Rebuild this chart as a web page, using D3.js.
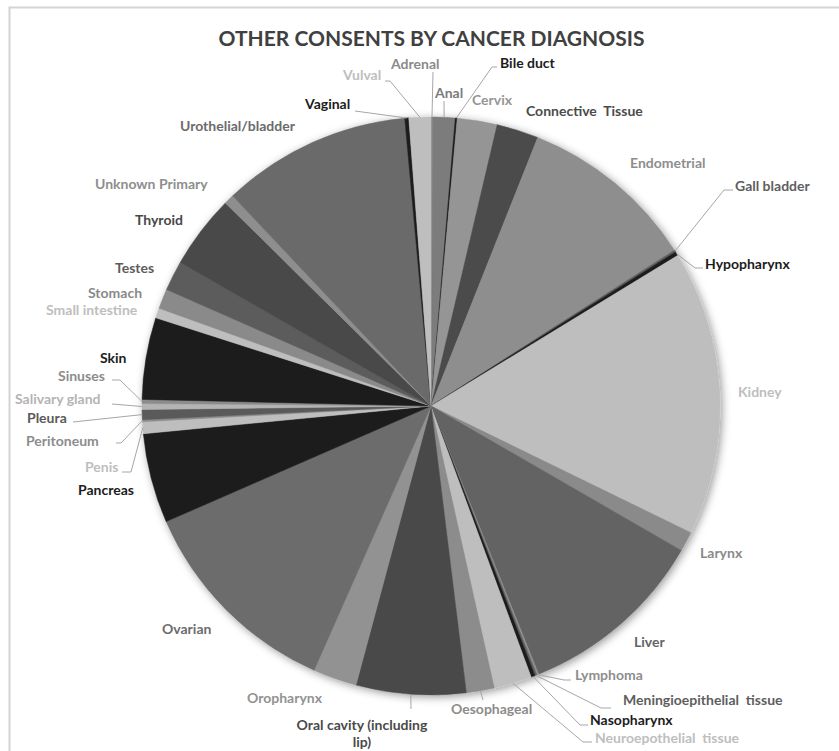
<!DOCTYPE html>
<html>
<head>
<meta charset="utf-8">
<script src="https://cdn.jsdelivr.net/npm/d3@7"></script>
<style>
  body { margin: 0; background: #fff; }
  svg { display: block; font-family: Lato, "Open Sans", sans-serif; }
</style>
</head>
<body>
<svg id="chart" width="839" height="751"></svg>
<script>
// categories in sheet order (Excel draws clockwise from 12 o'clock)
const diagnoses = [
  "Adrenal", "Anal", "Bile duct", "Cervix", "Connective Tissue", "Endometrial",
  "Gall bladder", "Hypopharynx", "Kidney", "Larynx", "Liver", "Lymphoma",
  "Meningioepithelial tissue", "Nasopharynx", "Neuroepothelial tissue",
  "Oesophageal", "Oral cavity (including lip)", "Oropharynx", "Ovarian",
  "Pancreas", "Penis", "Peritoneum", "Pleura", "Salivary gland", "Sinuses",
  "Skin", "Small intestine", "Stomach", "Testes", "Thyroid", "Unknown Primary",
  "Urothelial/bladder", "Vaginal", "Vulval"
];

// consents per diagnosis
const consents = [
  1, 11, 1, 20, 21, 89,
  1, 2, 143, 10, 95, 1,
  1, 2, 19,
  14, 55, 22, 106,
  45, 6, 1, 5, 3, 2,
  41, 5, 10, 15, 37, 5,
  95, 2, 11
];

// grey shade of each slice (labels use the same shade)
const shades = [
  "#8a8a8a", "#7b7b7b", "#1c1c1c", "#959595", "#4b4b4b", "#8e8e8e",
  "#5e5e5e", "#1c1c1c", "#bebebe", "#8a8a8a", "#646464", "#8e8e8e",
  "#5e5e5e", "#1c1c1c", "#bebebe",
  "#8c8c8c", "#4a4a4a", "#929292", "#6c6c6c",
  "#1c1c1c", "#bebebe", "#8c8c8c", "#5a5a5a", "#b4b4b4", "#8c8c8c",
  "#1c1c1c", "#bebebe", "#8a8a8a", "#5c5c5c", "#484848", "#8e8e8e",
  "#6b6b6b", "#1c1c1c", "#bebebe"
];

// label placement (dragged by hand in the original): x, y, anchor, leader start/elbow
const labelLayout = {
  "Adrenal": { x: 391, y: 64, lead: [[433, 72]] },
  "Anal": { x: 435, y: 93, lead: [[444, 101]] },
  "Bile duct": { x: 500, y: 63, lead: [[497, 67], [492, 67]] },
  "Cervix": { x: 472, y: 100 },
  "Connective Tissue": { x: 526, y: 111, text: "Connective  Tissue" },
  "Endometrial": { x: 630, y: 163 },
  "Gall bladder": { x: 735, y: 186, lead: [[733, 190], [724, 190]] },
  "Hypopharynx": { x: 705, y: 264, lead: [[703, 268], [695, 268]] },
  "Kidney": { x: 738, y: 392 },
  "Larynx": { x: 700, y: 553 },
  "Liver": { x: 634, y: 642 },
  "Lymphoma": { x: 575, y: 675, lead: [[571, 680], [564, 680]] },
  "Meningioepithelial tissue": { x: 623, y: 700, text: "Meningioepithelial  tissue", lead: [[611, 708], [601, 708]] },
  "Nasopharynx": { x: 590, y: 720, lead: [[588, 725], [580, 725]] },
  "Neuroepothelial tissue": { x: 595, y: 738, text: "Neuroepothelial  tissue", lead: [[592, 742], [583, 742]] },
  "Oesophageal": { x: 451, y: 709, lead: [[483, 700]] },
  "Oral cavity (including lip)": { x: 362, y: 725, anchor: "middle", lines: ["Oral cavity (including", "lip)"], lead: [[411, 709]] },
  "Oropharynx": { x: 247, y: 698 },
  "Ovarian": { x: 162, y: 629 },
  "Pancreas": { x: 78, y: 490 },
  "Penis": { x: 85, y: 467, lead: [[122, 472], [131, 472]] },
  "Peritoneum": { x: 26, y: 441, lead: [[116, 443], [121, 443]] },
  "Pleura": { x: 27, y: 418, lead: [[73, 422]] },
  "Salivary gland": { x: 15, y: 399, lead: [[112, 404]] },
  "Sinuses": { x: 58, y: 376, lead: [[112, 380], [120, 380]] },
  "Skin": { x: 100, y: 358 },
  "Small intestine": { x: 46, y: 310 },
  "Stomach": { x: 88, y: 293 },
  "Testes": { x: 115, y: 268 },
  "Thyroid": { x: 135, y: 220 },
  "Unknown Primary": { x: 95, y: 184 },
  "Urothelial/bladder": { x: 180, y: 126 },
  "Vaginal": { x: 305, y: 104, lead: [[355, 111]] },
  "Vulval": { x: 343, y: 75, lead: [[385, 81], [390, 81]] }
};

const svg = d3.select("#chart");
const width = 839;
const cx = 431, cy = 406, radius = 289;

// chart area frame
svg.append("rect")
  .attr("x", 9.5).attr("y", 7.5)
  .attr("width", 900).attr("height", 900)
  .attr("fill", "none")
  .attr("stroke", "#d4d4d4")
  .attr("stroke-width", 2);

// soft outer shadow like Excel's
const defs = svg.append("defs");
const filter = defs.append("filter").attr("id", "pieShadow")
  .attr("x", "-10%").attr("y", "-10%").attr("width", "120%").attr("height", "120%");
filter.append("feDropShadow")
  .attr("dx", 2).attr("dy", 2)
  .attr("stdDeviation", 4)
  .attr("flood-color", "#000")
  .attr("flood-opacity", 0.4);

svg.append("text")
  .attr("x", width / 2 + 12)
  .attr("y", 46)
  .attr("text-anchor", "middle")
  .attr("font-size", 21)
  .attr("font-weight", "bold")
  .attr("fill", "#404040")
  .text("OTHER CONSENTS BY CANCER DIAGNOSIS");

const data = diagnoses.map((name, i) => ({ name, value: consents[i], color: shades[i] }));

const pie = d3.pie().sort(null).value((d) => d.value);
const arcs = pie(data);

const arc = d3.arc().innerRadius(0).outerRadius(radius);
const edge = d3.arc().innerRadius(radius).outerRadius(radius);

const g = svg.append("g").attr("transform", `translate(${cx},${cy})`);

g.append("g")
  .attr("filter", "url(#pieShadow)")
  .selectAll("path")
  .data(arcs)
  .enter()
  .append("path")
  .attr("d", arc)
  .attr("fill", (d) => d.data.color)
  .attr("stroke", (d) => d.data.color)
  .attr("stroke-width", 0.5);

// leader lines
const leaders = svg.append("g");
arcs.forEach((d) => {
  const lay = labelLayout[d.data.name];
  if (!lay || !lay.lead) return;
  const [ex, ey] = edge.centroid(d);
  const pts = lay.lead.concat([[cx + ex, cy + ey]]);
  leaders.append("path")
    .attr("d", d3.line()(pts))
    .attr("fill", "none")
    .attr("stroke", "#a6a6a6")
    .attr("stroke-width", 1);
});

// data labels
const labels = svg.append("g")
  .attr("font-size", 14)
  .attr("font-weight", "bold");

arcs.forEach((d) => {
  const lay = labelLayout[d.data.name];
  const t = labels.append("text")
    .attr("x", lay.x)
    .attr("y", lay.y)
    .attr("text-anchor", lay.anchor || "start")
    .attr("fill", d.data.color)
    .attr("xml:space", "preserve")
    .style("white-space", "pre");
  if (lay.lines) {
    lay.lines.forEach((line, k) => {
      t.append("tspan")
        .attr("x", lay.x)
        .attr("dy", k === 0 ? "0.35em" : "1.25em")
        .text(line);
    });
  } else {
    t.attr("dy", "0.35em").text(lay.text || d.data.name);
  }
});
</script>
</body>
</html>
